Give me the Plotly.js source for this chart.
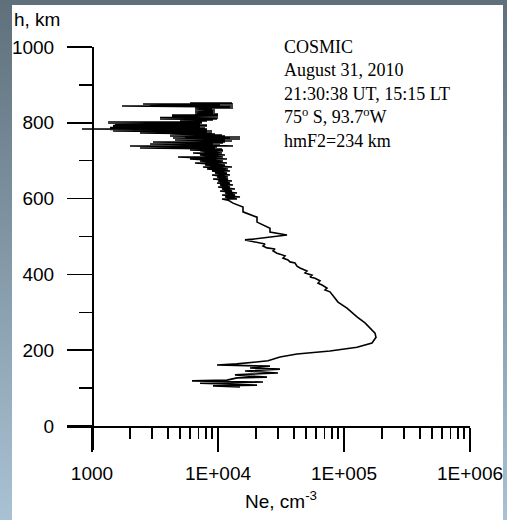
<!DOCTYPE html>
<html>
<head>
<meta charset="utf-8">
<script src="https://cdn.plot.ly/plotly-3.0.1.min.js"></script>
<style>
  html, body { margin: 0; padding: 0; }
  body {
    width: 507px; height: 520px; overflow: hidden; position: relative;
    background: linear-gradient(to bottom, #5f707b 0%, #8399a8 50%, #a9c2d3 100%);
  }
  #panel { position: absolute; left: 12px; top: 5px; width: 491px; height: 515px; background: #ffffff; }
  #chart { position: absolute; left: 0; top: 0; width: 507px; height: 520px; }
</style>
</head>
<body>
<div id="panel"></div>
<div id="chart"></div>
<script>
// COSMIC radio-occultation electron density profile, 31 Aug 2010.
// Samples run from the bottom of the profile upward; Ne in cm^-3, h in km.

// Bottomside, up to the F2 peak
const bottomNe = [
  14950, 9129, 20400, 7197, 22760, 6219, 11788, 14150, 24490, 13642,
  29930, 16380, 31050, 17950, 25860, 9820, 14150, 24940, 31050, 42370,
  77430, 126800, 166800, 179500
];
const bottomH = [
  103, 106, 108, 113, 116, 119, 121, 127, 129, 135,
  140, 145, 150, 153, 158, 161, 164, 172, 182, 190,
  198, 208, 219, 234
];

// Topside, 245-596 km
const topNe = [
  176200, 166800, 146800, 126800, 105600, 89640, 77430, 70680, 73320, 66910,
  62200, 64500, 58880, 53740, 55720, 49040, 50850, 44760, 42370, 40840,
  37270, 35940, 32800, 34020, 29390, 27320, 28340, 24490, 22760, 23610,
  21540, 16380, 18960, 35290, 25860, 25860, 20400, 20400, 15790, 15790,
  13153, 12006
];
const topH = [
  245, 253, 272, 288, 311, 327, 354, 359, 364, 372,
  377, 383, 390, 393, 398, 404, 409, 417, 422, 430,
  433, 438, 443, 449, 456, 462, 467, 470, 475, 480,
  483, 491, 493, 504, 512, 522, 538, 551, 565, 578,
  588, 596
];

// Noisy band, 599-726 km
const midNe = [
  10758, 14150, 11366, 14950, 10758, 13642, 11366, 14150, 10373, 12915,
  10758, 13642, 10000, 12452, 10373, 13153, 9820, 12452, 10000, 12915,
  9129, 12006, 9820, 12006, 8964, 12452, 9467, 11788, 8964, 12452,
  8179, 12006, 7603, 12915, 7886, 11366, 6569, 11788, 7197, 10957,
  5995, 11788, 4814, 10957, 7197, 11366, 6334, 10758, 7197, 10957
];
const midH = [
  598.9, 598.9, 604.2, 604.2, 609.5, 609.5, 614.8, 614.8, 620.0, 620.0,
  625.3, 625.3, 630.6, 630.6, 635.9, 635.9, 641.2, 641.2, 646.4, 646.4,
  651.7, 651.7, 657.0, 657.0, 662.3, 662.3, 667.5, 667.5, 672.8, 672.8,
  678.1, 678.1, 683.4, 683.4, 688.6, 688.6, 693.9, 693.9, 699.2, 699.2,
  704.5, 704.5, 709.8, 709.8, 715.0, 715.0, 720.3, 720.3, 725.6, 725.6
];

// Strongly scattered top of the profile, 728-852 km
const upperNe = [
  5995, 10957, 7886, 10758, 2404, 9467, 5675, 9820, 2003, 13153,
  7197, 10373, 2886, 9129, 5995, 10957, 3049, 11366, 5995, 12915,
  4556, 11366, 5995, 14950, 4393, 12452, 5472, 14950, 4159, 11366,
  5472, 10758, 4159, 9467, 2404, 8964, 4159, 8179, 1468, 8964,
  1468, 7197, 1668, 8179, 1390, 7197, 833, 8179, 1390, 6569,
  1579, 7886, 1390, 6334, 1522, 7197, 1468, 5995, 1668, 8179,
  1468, 6569, 1608, 8179, 1522, 5995, 1608, 7197, 1608, 5995,
  1340, 7465, 1668, 6569, 1340, 7465, 2886, 6569, 4993, 8179,
  5472, 9129, 4993, 9129, 3465, 9820, 4313, 9129, 4556, 10000,
  3465, 9820, 4313, 9129, 5472, 10000, 4313, 9467, 5995, 10000,
  4313, 9129, 6569, 10000, 6813, 9129, 6569, 9467, 6569, 9129,
  7197, 9467, 6569, 8964, 6569, 13153, 7197, 12452, 1730, 13153,
  2886, 10373, 2541, 13153, 5995, 12915
];
const upperH = [
  728.2, 728.2, 730.9, 730.9, 733.5, 733.5, 736.1, 736.1, 738.8, 738.8,
  741.4, 741.4, 744.1, 744.1, 746.7, 746.7, 749.3, 749.3, 752.0, 752.0,
  754.6, 754.6, 757.2, 757.2, 759.9, 759.9, 762.5, 762.5, 765.2, 765.2,
  767.8, 767.8, 770.4, 770.4, 773.1, 773.1, 775.7, 775.7, 778.4, 778.4,
  779.7, 779.7, 781.0, 781.0, 782.3, 782.3, 783.6, 783.6, 785.0, 785.0,
  786.3, 786.3, 787.6, 787.6, 788.9, 788.9, 790.2, 790.2, 791.6, 791.6,
  792.9, 792.9, 794.2, 794.2, 795.5, 795.5, 796.8, 796.8, 798.2, 798.2,
  799.5, 799.5, 800.8, 800.8, 802.1, 802.1, 803.4, 803.4, 804.7, 804.7,
  807.4, 807.4, 808.7, 808.7, 810.0, 810.0, 811.3, 811.3, 812.7, 812.7,
  814.0, 814.0, 815.3, 815.3, 816.6, 816.6, 817.9, 817.9, 819.3, 819.3,
  820.6, 820.6, 823.2, 823.2, 825.9, 825.9, 828.5, 828.5, 831.1, 831.1,
  833.8, 833.8, 836.4, 836.4, 839.0, 839.0, 841.7, 841.7, 844.3, 844.3,
  847.0, 847.0, 849.6, 849.6, 852.2, 852.2
];

// Axis ticks
const xTickVals = [1000, 10000, 100000, 1000000];
const xTickText = ['1000', '1E+004', '1E+005', '1E+006'];
const xMinorVals = [
  2000, 3000, 4000, 5000, 6000, 7000, 8000, 9000,
  20000, 30000, 40000, 50000, 60000, 70000, 80000, 90000,
  200000, 300000, 400000, 500000, 600000, 700000, 800000, 900000
];
const yTickVals = [0, 200, 400, 600, 800, 1000];
const yMinorVals = [100, 300, 500, 700, 900];

const infoLines = [
  'COSMIC',
  'August 31, 2010',
  '21:30:38 UT, 15:15 LT',
  '75<sup>o</sup> S, 93.7<sup>o</sup>W',
  'hmF2=234 km'
];

const ne = [].concat(bottomNe, topNe, midNe, upperNe);
const h = [].concat(bottomH, topH, midH, upperH);

// Axes cross at (1000 cm^-3, 0 km); the ranges run a little past the crossing
// so that the crossing ticks extend beyond each axis line.
const xRange = [3 - 25 / 126, 6];
const yRange = [-63.3, 1000];
const yAxisPos = (3 - xRange[0]) / (xRange[1] - xRange[0]);
const xAxisPos = (0 - yRange[0]) / (yRange[1] - yRange[0]);

const sans = 'Arial, "Liberation Sans", sans-serif';
const serif = '"Times New Roman", "Liberation Serif", serif';

const trace = {
  x: ne, y: h, type: 'scatter', mode: 'lines',
  line: { color: '#000000', width: 1.6 },
  hoverinfo: 'skip'
};

const layout = {
  width: 507, height: 520,
  margin: { l: 67, r: 37, t: 47, b: 70 },
  paper_bgcolor: 'rgba(0,0,0,0)',
  plot_bgcolor: 'rgba(0,0,0,0)',
  showlegend: false,
  font: { family: sans, size: 19, color: '#000000' },
  xaxis: {
    type: 'log', range: xRange,
    anchor: 'free', position: xAxisPos,
    showline: true, linecolor: '#000000', linewidth: 1.5,
    showgrid: false, zeroline: false,
    tickmode: 'array', tickvals: xTickVals, ticktext: xTickText,
    ticks: 'outside', ticklen: 24, tickwidth: 1.5, tickcolor: '#000000',
    ticklabelstandoff: 6,
    tickfont: { family: sans, size: 19, color: '#000000' },
    minor: { tickmode: 'array', tickvals: xMinorVals, ticks: 'outside', ticklen: 11, tickwidth: 1.5, tickcolor: '#000000', showgrid: false }
  },
  yaxis: {
    range: yRange,
    anchor: 'free', position: yAxisPos,
    showline: true, linecolor: '#000000', linewidth: 1.5,
    showgrid: false, zeroline: false,
    tickmode: 'array', tickvals: yTickVals,
    ticks: 'outside', ticklen: 25, tickwidth: 1.5, tickcolor: '#000000',
    ticklabelstandoff: 9,
    tickfont: { family: sans, size: 19, color: '#000000' },
    minor: { tickmode: 'array', tickvals: yMinorVals, ticks: 'outside', ticklen: 13, tickwidth: 1.5, tickcolor: '#000000', showgrid: false }
  },
  annotations: [
    {
      xref: 'paper', yref: 'paper', x: 0.5335, y: 1.03,
      xanchor: 'left', yanchor: 'top', align: 'left', showarrow: false,
      text: infoLines.join('<br>'),
      font: { family: serif, size: 18, color: '#000000' }
    },
    {
      xref: 'paper', yref: 'paper', x: -0.136, y: 1.067,
      xanchor: 'left', yanchor: 'middle', showarrow: false,
      text: 'h, km',
      font: { family: sans, size: 19, color: '#000000' }
    },
    {
      xref: 'paper', yref: 'paper', x: 0.531, y: -0.124,
      xanchor: 'center', yanchor: 'middle', showarrow: false,
      text: 'Ne, cm<sup>-3</sup>',
      font: { family: sans, size: 19, color: '#000000' }
    }
  ]
};

Plotly.newPlot('chart', [trace], layout, { staticPlot: true, displayModeBar: false });
</script>
</body>
</html>
